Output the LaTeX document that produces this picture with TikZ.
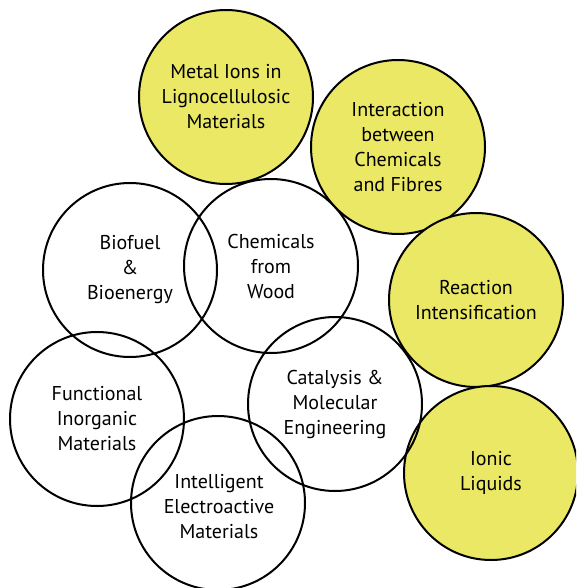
\documentclass[tikz,border=0pt]{standalone}
\usepackage{fontspec}
\setmainfont{PT Sans}
\definecolor{topicyellow}{RGB}{234,232,100}
\begin{document}
\begin{tikzpicture}[x=1pt,y=-1pt,
  label text/.style={align=center, font=\fontsize{20}{25}\selectfont},
  topic/.style={circle, draw=black, line width=2pt, minimum size=174pt, inner sep=0pt, label text},
  hot/.style={topic, fill=topicyellow}]
\useasboundingbox (0,0) rectangle (576,588);
\clip (0,0) rectangle (576,588);
% yellow circles
\node[hot] (metal) at (226,97) {Metal Ions in\\Lignocellulosic\\Materials};
\node[hot] (inter) at (398,147) {Interaction\\between\\Chemicals\\and Fibres};
\node[hot] (react) at (476,300) {Reaction\\Intensification};
\node[hot] (ionic) at (491,473) {Ionic\\Liquids};
% white circles
\node[topic] (bio) at (130,270) {Biofuel\\\&\\Bioenergy};
\node[topic] (chem) at (271,266) {Chemicals\\from\\Wood};
\node[topic] (func) at (97,419) {Functional\\Inorganic\\Materials};
\node[topic] (cat) at (335,404) {Catalysis \&\\Molecular\\Engineering};
\node[topic] (intel) at (218,503) {};
\node[label text] (inteltext) at (219,507) {Intelligent\\Electroactive\\Materials};
\end{tikzpicture}
\end{document}
